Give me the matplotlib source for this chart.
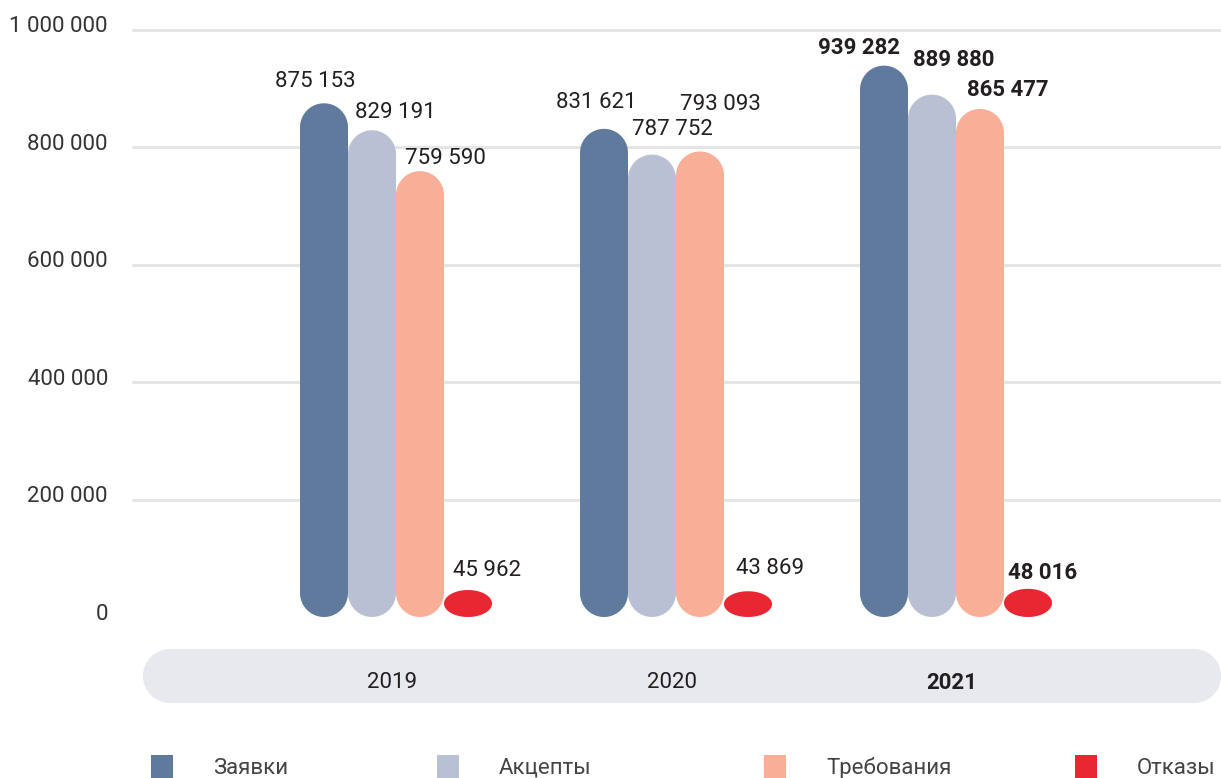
import numpy as np
import matplotlib
matplotlib.use("Agg")
import matplotlib.pyplot as plt
from matplotlib.patches import Polygon, Rectangle

# ---------------- data ----------------
years = ["2019", "2020", "2021"]
series_names = ["Заявки", "Акцепты", "Требования", "Отказы"]
zayavki = [875153, 831621, 939282]
aktsepty = [829191, 787752, 889880]
trebovaniya = [759590, 793093, 865477]
otkazy = [45962, 43869, 48016]
y_ticks = [0, 200000, 400000, 600000, 800000, 1000000]
bold_year = "2021"

series = [zayavki, aktsepty, trebovaniya, otkazy]
colors = ["#607a9e", "#b9c0d4", "#f9ae98", "#e92733"]

# label offsets in pixels (dx, dy from bar top-center) - layout only
label_offsets = [
    [(-9, 24), (23, 20), (25, 15), (19, 22)],
    [(-8, 28), (20, 27), (20, 49), (22, 25)],
    [(-25, 20), (22, 37), (28, 21), (15, 18)],
]
text_shift = 2  # px downward correction for glyph centering

W, H = 1221, 778
fig = plt.figure(figsize=(W / 100, H / 100), dpi=100)
ax = fig.add_axes([0, 0, 1, 1])
ax.set_axis_off()

# mapping: group center px = 396 + 280*i ; y=0 at px 617, 1e6 at px 30
px_per_x = 280.0
px_per_y = (617 - 30) / 1e6
x_left = -396 / px_per_x
x_right = (W - 396) / px_per_x
y_top = 1e6 + 30 / px_per_y
y_bot = -(H - 617) / px_per_y
ax.set_xlim(x_left, x_right)
ax.set_ylim(y_bot, y_top)

bar_w = 48 / px_per_x
offsets = [-1.5, -0.5, 0.5, 1.5]

font = "Roboto"
txt_color = "#231f20"

# gridlines (not at 0) and y tick labels
x_grid0 = x_left + 132 / px_per_x
for t in y_ticks:
    if t > 0:
        ax.plot([x_grid0, x_right], [t, t], color="#e5e5e5", lw=2.2, zorder=1,
                solid_capstyle="butt")
    ax.annotate(f"{t:,}".replace(",", " "), xy=(x_left + 108 / px_per_x, t),
                xytext=(0, 5 - text_shift), textcoords="offset pixels", ha="right",
                va="center", fontsize=16, family=font, color="#333333")


def capsule(cx, hw, v, ry_max):
    ry = min(ry_max, v / 2)
    t1 = np.linspace(0, np.pi, 60)
    t2 = np.linspace(np.pi, 2 * np.pi, 60)
    top = np.column_stack([cx + hw * np.cos(t1), v - ry + ry * np.sin(t1)])
    bot = np.column_stack([cx + hw * np.cos(t2), ry + ry * np.sin(t2)])
    return np.vstack([top, bot])


hw = bar_w / 2
ry_max = (hw * px_per_x) / px_per_y

for gi, yr in enumerate(years):
    bold = yr == bold_year
    for si, s in enumerate(series):
        cx = gi + offsets[si] * bar_w
        v = s[gi]
        poly = Polygon(capsule(cx, hw, v, ry_max), closed=True,
                       facecolor=colors[si], edgecolor="none", zorder=3)
        ax.add_patch(poly)
        dx, dy = label_offsets[gi][si]
        ax.annotate(f"{v:,}".replace(",", " "), xy=(cx, v),
                    xytext=(dx, dy - text_shift),
                    textcoords="offset pixels", ha="center", va="center",
                    fontsize=16, family=font, color=txt_color,
                    fontweight="bold" if bold else "normal", zorder=4)

# category band (in pixel space -> figure fraction)
bx0, bx1, by0, by1 = 143, 1221, 649, 703
r = (by1 - by0) / 2
cy = (by0 + by1) / 2
t1 = np.linspace(np.pi / 2, 3 * np.pi / 2, 60)
t2 = np.linspace(-np.pi / 2, np.pi / 2, 60)
left = np.column_stack([bx0 + r + r * np.cos(t1), cy + r * np.sin(t1)])
right = np.column_stack([bx1 - r + r * np.cos(t2), cy + r * np.sin(t2)])
pts = np.vstack([left, right])
pts_frac = np.column_stack([pts[:, 0] / W, 1 - pts[:, 1] / H])
ax.add_patch(Polygon(pts_frac, closed=True, transform=fig.transFigure,
                     facecolor="#e8e9ef", edgecolor="none", zorder=2))

y_year = 1 - (681 + text_shift) / H
for gi, yr in enumerate(years):
    xf = (396 + 280 * gi - 4) / W
    fig.text(xf, y_year, yr, ha="center", va="center", fontsize=16,
             family=font, color=txt_color,
             fontweight="bold" if yr == bold_year else "normal")

# legend
sq_x = [151, 437, 764, 1075]
for si, name in enumerate(series_names):
    fig.patches.append(Rectangle((sq_x[si] / W, 1 - 778 / H), 22 / W, 23 / H,
                                 transform=fig.transFigure, facecolor=colors[si],
                                 edgecolor="none"))
    fig.text((sq_x[si] + 62) / W, 1 - (766 + text_shift) / H, name, ha="left",
             va="center", fontsize=16, family=font, color="#444444")

fig.savefig("out.png", dpi=100)
